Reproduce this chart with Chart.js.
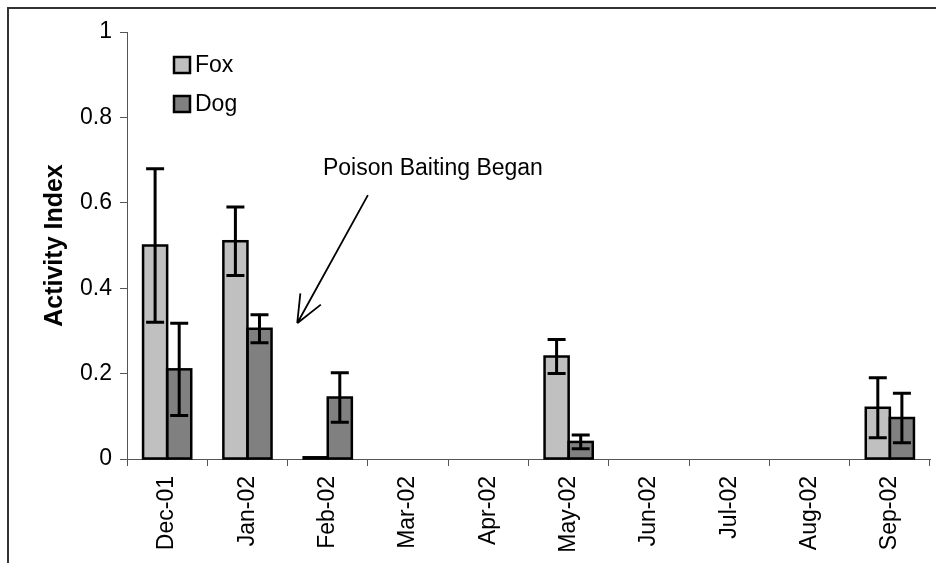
<!DOCTYPE html>
<html>
<head>
<meta charset="utf-8">
<script src="https://cdn.jsdelivr.net/npm/chart.js@4.4.1/dist/chart.umd.min.js"></script>
<style>
  html, body { margin: 0; padding: 0; background: #fff; }
  #chart-wrap { width: 936px; height: 563px; position: relative; }
</style>
</head>
<body>
<div id="chart-wrap"><canvas id="chart"></canvas></div>
<script>
const months = ["Dec-01", "Jan-02", "Feb-02", "Mar-02", "Apr-02", "May-02", "Jun-02", "Jul-02", "Aug-02", "Sep-02"];
const foxValues = [0.5, 0.51, 0.004, null, null, 0.24, null, null, null, 0.12];
const foxErrors = [0.18, 0.08, null, null, null, 0.04, null, null, null, 0.07];
const dogValues = [0.21, 0.305, 0.144, null, null, 0.04, null, null, null, 0.096];
const dogErrors = [0.108, 0.033, 0.058, null, null, 0.016, null, null, null, 0.058];
const yTickLabels = ["0", "0.2", "0.4", "0.6", "0.8", "1"];

const FONT = "'Liberation Sans', Arial, sans-serif";
const AXIS = "#555";

// frame around the whole chart (only top and left edges are visible)
const frame = {
  id: "frame",
  beforeDraw(chart) {
    const ctx = chart.ctx;
    ctx.save();
    ctx.strokeStyle = "#333";
    ctx.lineWidth = 2;
    ctx.beginPath();
    ctx.moveTo(8, chart.height);
    ctx.lineTo(8, 8);
    ctx.lineTo(chart.width, 8);
    ctx.stroke();
    ctx.restore();
  }
};

// excel-style outlines (centred on the bar edge) plus symmetric error bars
const errorBars = {
  id: "errorBars",
  afterDatasetsDraw(chart) {
    const ctx = chart.ctx;
    const y = chart.scales.y;
    ctx.save();
    ctx.strokeStyle = "#000";
    ctx.lineWidth = 2.5;
    chart.data.datasets.forEach((ds, i) => {
      chart.getDatasetMeta(i).data.forEach((bar, j) => {
        const v = ds.data[j];
        if (v == null) return;
        const p = bar.getProps(["x", "y", "base", "width"], true);
        ctx.strokeRect(p.x - p.width / 2, p.y, p.width, p.base - p.y);
      });
    });
    ctx.lineWidth = 3;
    chart.data.datasets.forEach((ds, i) => {
      chart.getDatasetMeta(i).data.forEach((bar, j) => {
        const v = ds.data[j], err = ds.errors[j];
        if (v == null || err == null) return;
        const top = y.getPixelForValue(v + err);
        const bot = y.getPixelForValue(v - err);
        ctx.beginPath();
        ctx.moveTo(bar.x, top);
        ctx.lineTo(bar.x, bot);
        ctx.moveTo(bar.x - 9, top);
        ctx.lineTo(bar.x + 9, top);
        ctx.moveTo(bar.x - 9, bot);
        ctx.lineTo(bar.x + 9, bot);
        ctx.stroke();
      });
    });
    ctx.restore();
  }
};

// legend in the upper left of the plot
const insideLegend = {
  id: "insideLegend",
  afterDraw(chart) {
    const ctx = chart.ctx;
    const area = chart.chartArea;
    ctx.save();
    ctx.font = "23px " + FONT;
    ctx.textBaseline = "middle";
    chart.data.datasets.forEach((ds, i) => {
      const x = area.left + 47;
      const y = area.top + 25 + i * 39;
      ctx.fillStyle = ds.backgroundColor;
      ctx.fillRect(x, y, 16, 16);
      ctx.strokeStyle = "#000";
      ctx.lineWidth = 2.5;
      ctx.strokeRect(x, y, 16, 16);
      ctx.fillStyle = "#000";
      ctx.fillText(ds.label, x + 21, y + 9);
    });
    ctx.restore();
  }
};

// "Poison Baiting Began" note with arrow, placed in data coordinates
const note = {
  id: "note",
  afterDraw(chart) {
    const ctx = chart.ctx;
    const xs = chart.scales.x, ys = chart.scales.y;
    const tx = xs.getPixelForValue(3.31), ty = ys.getPixelForValue(0.68);
    const sx = xs.getPixelForValue(2.5), sy = ys.getPixelForValue(0.618);
    const ex = xs.getPixelForValue(1.62), ey = ys.getPixelForValue(0.318);
    ctx.save();
    ctx.font = "23px " + FONT;
    ctx.fillStyle = "#000";
    ctx.textAlign = "center";
    ctx.textBaseline = "middle";
    ctx.fillText("Poison Baiting Began", tx, ty);
    ctx.strokeStyle = "#000";
    ctx.lineWidth = 1.8;
    ctx.beginPath();
    ctx.moveTo(sx, sy);
    ctx.lineTo(ex, ey);
    const ang = Math.atan2(ey - sy, ex - sx);
    const len = 30;
    ctx.moveTo(ex, ey);
    ctx.lineTo(ex - len * Math.cos(ang - 0.4), ey - len * Math.sin(ang - 0.4));
    ctx.moveTo(ex, ey);
    ctx.lineTo(ex - len * Math.cos(ang + 0.4), ey - len * Math.sin(ang + 0.4));
    ctx.stroke();
    ctx.restore();
  }
};

const ctx = document.getElementById("chart").getContext("2d");

new Chart(ctx, {
  type: "bar",
  data: {
    labels: months,
    datasets: [
      {
        label: "Fox",
        data: foxValues,
        errors: foxErrors,
        backgroundColor: "#c0c0c0",
        borderWidth: 0,
        categoryPercentage: 0.6,
        barPercentage: 1.0
      },
      {
        label: "Dog",
        data: dogValues,
        errors: dogErrors,
        backgroundColor: "#808080",
        borderWidth: 0,
        categoryPercentage: 0.6,
        barPercentage: 1.0
      }
    ]
  },
  options: {
    responsive: true,
    maintainAspectRatio: false,
    animation: false,
    layout: { padding: { top: 32, right: 6, left: 0, bottom: 0 } },
    plugins: {
      legend: { display: false },
      tooltip: { enabled: false }
    },
    scales: {
      x: {
        offset: true,
        grid: {
          display: true,
          offset: true,
          drawOnChartArea: false,
          drawTicks: true,
          tickLength: 7,
          color: AXIS
        },
        border: { display: true, color: AXIS, width: 1 },
        ticks: {
          minRotation: 90,
          maxRotation: 90,
          autoSkip: false,
          padding: 10,
          color: "#000",
          font: { family: FONT, size: 23 }
        },
        afterFit(scale) { scale.height = 104; }
      },
      y: {
        min: 0,
        max: 1,
        grid: {
          display: true,
          drawOnChartArea: false,
          drawTicks: true,
          tickLength: 7,
          color: AXIS
        },
        border: { display: true, color: AXIS, width: 1 },
        ticks: {
          stepSize: 0.2,
          padding: 8,
          color: "#000",
          font: { family: FONT, size: 23 },
          callback: (value, index) => yTickLabels[index]
        },
        title: {
          display: true,
          text: "Activity Index",
          color: "#000",
          font: { family: FONT, size: 25, weight: "bold" },
          padding: { top: 40, bottom: 0 }
        },
        afterFit(scale) { scale.width = 127; }
      }
    }
  },
  plugins: [frame, errorBars, insideLegend, note]
});
</script>
</body>
</html>
